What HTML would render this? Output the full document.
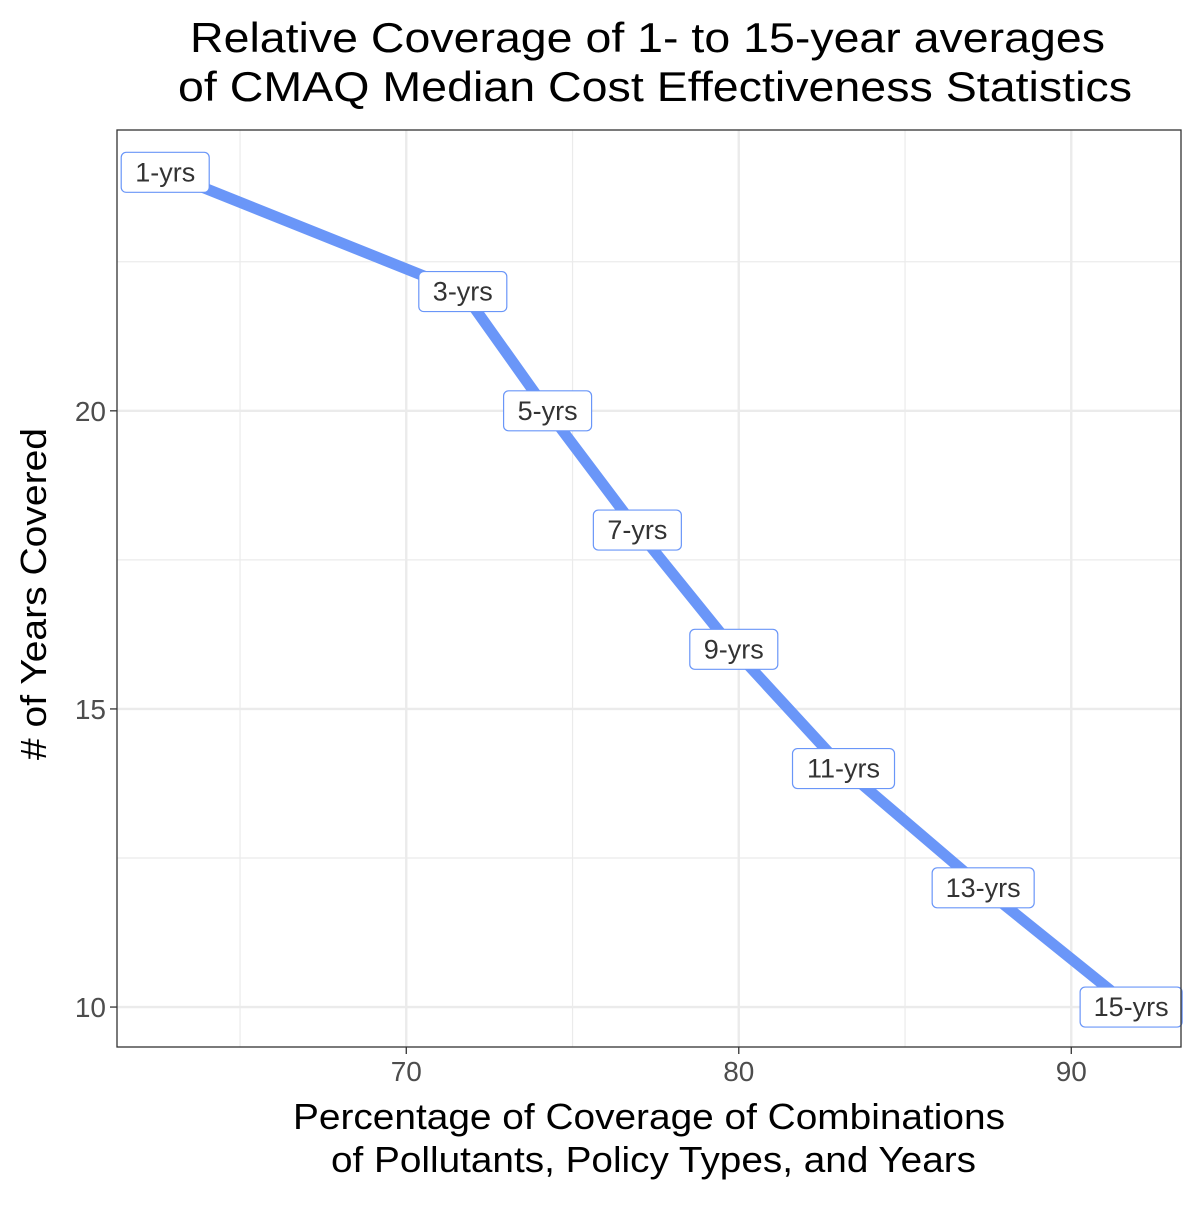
<!DOCTYPE html>
<html><head><meta charset="utf-8"><style>
body{margin:0;background:#fff;}
svg text{font-family:"Liberation Sans",Arial,sans-serif;}
</style></head><body>
<svg id="chart" width="1200" height="1200" viewBox="0 0 1200 1200">
<text x="190" y="52" textLength="915" lengthAdjust="spacingAndGlyphs" font-size="42" fill="#000">Relative Coverage of 1- to 15-year averages</text>
<text x="178" y="101" textLength="954" lengthAdjust="spacingAndGlyphs" font-size="42" fill="#000">of CMAQ Median Cost Effectiveness Statistics</text>
<g id="grid"></g>
<g id="marks"></g>
<rect x="117" y="130" width="1064" height="917" fill="none" stroke="#333" stroke-width="1.3"/>
<g id="axes"></g>
<text x="293" y="1129" textLength="712" lengthAdjust="spacingAndGlyphs" font-size="36" fill="#000">Percentage of Coverage of Combinations</text>
<text x="331" y="1172" textLength="645" lengthAdjust="spacingAndGlyphs" font-size="36" fill="#000">of Pollutants, Policy Types, and Years</text>
<text transform="translate(46,760) rotate(-90)" textLength="332" lengthAdjust="spacingAndGlyphs" font-size="36" fill="#000"># of Years Covered</text>
</svg>
<script>
const labels=["1-yrs","3-yrs","5-yrs","7-yrs","9-yrs","11-yrs","13-yrs","15-yrs"];
const xValues=[62.75,71.7,74.25,76.95,79.85,83.15,87.35,91.8];
const yValues=[24,22,20,18,16,14,12,10];
const xTicks=[70,80,90];
const xMinor=[65,75,85];
const yTicks=[10,15,20];
const yMinor=[12.5,17.5,22.5];
const NS="http://www.w3.org/2000/svg";
const L=117,R=1181,T=130,B=1047;
const xMin=61.3,xMax=93.3,yMin=9.33,yMax=24.71;
function sx(v){return L+(v-xMin)/(xMax-xMin)*(R-L);}
function sy(v){return B-(v-yMin)/(yMax-yMin)*(B-T);}
function mk(tag,attrs,parent){const e=document.createElementNS(NS,tag);for(const k in attrs)e.setAttribute(k,attrs[k]);parent.appendChild(e);return e;}
const grid=document.getElementById('grid'),axes=document.getElementById('axes'),marks=document.getElementById('marks');
xMinor.forEach(v=>{const l=mk('line',{x1:sx(v),x2:sx(v),y1:T,y2:B,stroke:'#ebebeb','stroke-width':1.2},grid);

});
yMinor.forEach(v=>{const l=mk('line',{x1:L,x2:R,y1:sy(v),y2:sy(v),stroke:'#ebebeb','stroke-width':1.2},grid);

});
xTicks.forEach(v=>{const l=mk('line',{x1:sx(v),x2:sx(v),y1:T,y2:B,stroke:'#ebebeb','stroke-width':2.4},grid);


const t=mk('line',{x1:sx(v),x2:sx(v),y1:B,y2:B+7,stroke:'#333','stroke-width':1.3},axes);


const tx=mk('text',{x:sx(v),y:B+34,'text-anchor':'middle','font-size':28,fill:'#4d4d4d'},axes);tx.textContent=v;

});
yTicks.forEach(v=>{const l=mk('line',{x1:L,x2:R,y1:sy(v),y2:sy(v),stroke:'#ebebeb','stroke-width':2.4},grid);


const t=mk('line',{x1:L-7,x2:L,y1:sy(v),y2:sy(v),stroke:'#333','stroke-width':1.3},axes);


const tx=mk('text',{x:L-11,y:sy(v)+10,'text-anchor':'end','font-size':28,fill:'#4d4d4d'},axes);tx.textContent=v;

});
const pts=xValues.map((x,i)=>sx(x)+','+sy(yValues[i])).join(' ');
const pl=mk('polyline',{points:pts,fill:'none',stroke:'#6a96f8','stroke-width':11,'stroke-linejoin':'round'},marks);


labels.forEach((s,i)=>{const cx=sx(xValues[i]),cy=sy(yValues[i]);
const w=s.length*14+18,h=40;
const g=mk('g',{},marks);


mk('rect',{x:cx-w/2,y:cy-h/2,width:w,height:h,rx:5,fill:'#fff',stroke:'#6a96f8','stroke-width':1.2},g);
const t=mk('text',{x:cx,y:cy+9,'text-anchor':'middle','font-size':27,fill:'#333'},g);t.textContent=s;});
</script>
</body></html>
